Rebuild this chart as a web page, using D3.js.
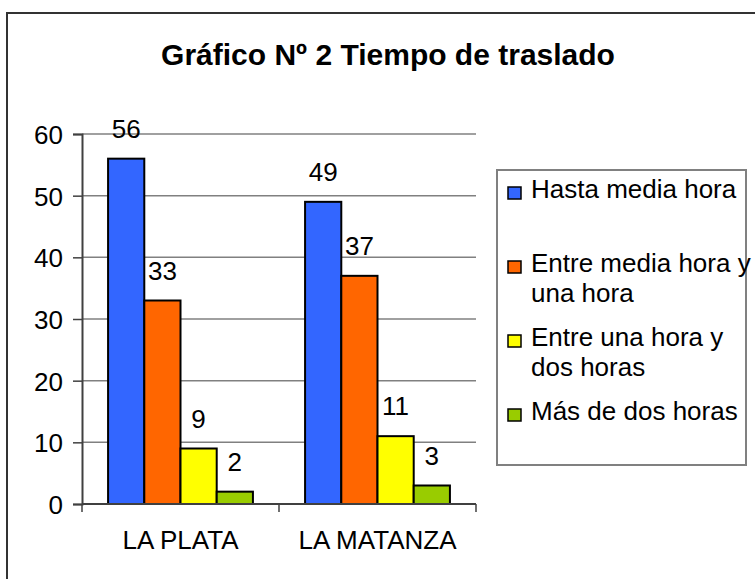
<!DOCTYPE html>
<html>
<head>
<meta charset="utf-8">
<script src="https://cdn.jsdelivr.net/npm/d3@7"></script>
<style>
  body { margin: 0; background: #fff; }
  svg text { font-family: "Liberation Sans", Arial, sans-serif; fill: #000; }
</style>
</head>
<body>
<div id="chart"></div>
<script>
// data
const categories = ['LA PLATA', 'LA MATANZA'];
const series = ['Hasta media hora', 'Entre media hora y una hora', 'Entre una hora y dos horas', 'Más de dos horas'];
// legend lines (Excel wraps the long ones)
const legendLines = [['Hasta media hora'], ['Entre media hora y', 'una hora'], ['Entre una hora y', 'dos horas'], ['Más de dos horas']];
const hastaMedia = [56, 49];
const mediaAUna = [33, 37];
const unaADos = [9, 11];
const masDeDos = [2, 3];
const colors = ['#3366ff', '#ff6600', '#ffff00', '#99cc00'];
const yTicks = [0, 10, 20, 30, 40, 50, 60];

const values = [hastaMedia, mediaAUna, unaADos, masDeDos];
const rows = [];
categories.forEach((c, ci) => {
  series.forEach((s, si) => rows.push({cat: c, ser: s, si: si, v: values[si][ci]}));
});

const W = 755, H = 579;
const fs = '26px';
const svg = d3.select('#chart').append('svg')
  .attr('width', W).attr('height', H);

// outer chart border (runs off the right/bottom edge in the original)
svg.append('rect')
  .attr('x', 7).attr('y', 13)
  .attr('width', 760).attr('height', 580)
  .attr('fill', '#fff')
  .attr('stroke', '#333').attr('stroke-width', 2);

svg.append('text')
  .attr('x', 388).attr('y', 65)
  .attr('text-anchor', 'middle')
  .style('font-size', '30px').style('font-weight', 'bold')
  .text('Gráfico Nº 2 Tiempo de traslado');

const plot = {left: 82, right: 476, top: 134, bottom: 504};

const y = d3.scaleLinear().domain([0, 60]).range([plot.bottom, plot.top]);
const x0 = d3.scaleBand().domain(categories).range([plot.left, plot.right]);
const x1 = d3.scaleBand().domain(series).range([0, x0.bandwidth()])
  .paddingInner(0).paddingOuter(0.72);

// gridlines
svg.append('g').selectAll('line')
  .data(yTicks.filter(t => t > 0))
  .join('line')
  .attr('x1', plot.left).attr('x2', plot.right)
  .attr('y1', d => y(d)).attr('y2', d => y(d))
  .attr('stroke', '#808080').attr('stroke-width', 1.5);

// y axis
const yAxis = svg.append('g')
  .attr('transform', `translate(${plot.left},0)`)
  .call(d3.axisLeft(y).tickValues(yTicks).tickSize(9).tickPadding(10));
yAxis.select('.domain').attr('stroke', '#404040').attr('stroke-width', 2);
yAxis.selectAll('.tick line').attr('stroke', '#404040').attr('stroke-width', 1.5);
yAxis.selectAll('.tick text')
  .style('font-size', fs)
  .attr('dy', '0.36em');

// bars
const groups = svg.append('g').selectAll('g')
  .data(categories)
  .join('g')
  .attr('transform', d => `translate(${x0(d)},0)`);

groups.selectAll('rect')
  .data(c => rows.filter(r => r.cat === c))
  .join('rect')
  .attr('x', d => x1(d.ser))
  .attr('y', d => y(d.v))
  .attr('width', x1.bandwidth())
  .attr('height', d => y(0) - y(d.v))
  .attr('fill', d => colors[d.si])
  .attr('stroke', '#000').attr('stroke-width', 2);

groups.selectAll('text')
  .data(c => rows.filter(r => r.cat === c))
  .join('text')
  .attr('x', d => x1(d.ser) + x1.bandwidth() / 2)
  .attr('y', d => y(d.v) - 21)
  .attr('text-anchor', 'middle')
  .style('font-size', fs)
  .text(d => d.v);

// x axis with ticks at the category borders
svg.append('line')
  .attr('x1', plot.left).attr('x2', plot.right)
  .attr('y1', plot.bottom).attr('y2', plot.bottom)
  .attr('stroke', '#404040').attr('stroke-width', 2);
const borders = categories.map(c => x0(c)).concat([x0(categories[categories.length - 1]) + x0.bandwidth()]);
svg.append('g').selectAll('line')
  .data(borders)
  .join('line')
  .attr('x1', d => d).attr('x2', d => d)
  .attr('y1', plot.bottom).attr('y2', plot.bottom + 8)
  .attr('stroke', '#404040').attr('stroke-width', 1.5);
svg.append('g').selectAll('text')
  .data(categories)
  .join('text')
  .attr('x', d => x0(d) + x0.bandwidth() / 2)
  .attr('y', 549)
  .attr('text-anchor', 'middle')
  .style('font-size', fs)
  .text(d => d);

// legend
const legend = svg.append('g');
legend.append('rect')
  .attr('x', 497).attr('y', 170)
  .attr('width', 249).attr('height', 295)
  .attr('fill', '#fff')
  .attr('stroke', '#808080').attr('stroke-width', 2);

const items = legend.selectAll('g.item')
  .data(series)
  .join('g')
  .attr('class', 'item')
  .attr('transform', (d, i) => `translate(0,${198 + i * 74})`);
items.append('rect')
  .attr('x', 508).attr('y', -11)
  .attr('width', 13).attr('height', 12)
  .attr('fill', (d, i) => colors[i])
  .attr('stroke', '#000').attr('stroke-width', 1.5);
items.append('text')
  .attr('x', 531).attr('y', 0)
  .style('font-size', fs)
  .selectAll('tspan')
  .data((d, i) => legendLines[i])
  .join('tspan')
  .attr('x', 531)
  .attr('dy', (d, j) => j === 0 ? 0 : 30)
  .text(d => d);
</script>
</body>
</html>
